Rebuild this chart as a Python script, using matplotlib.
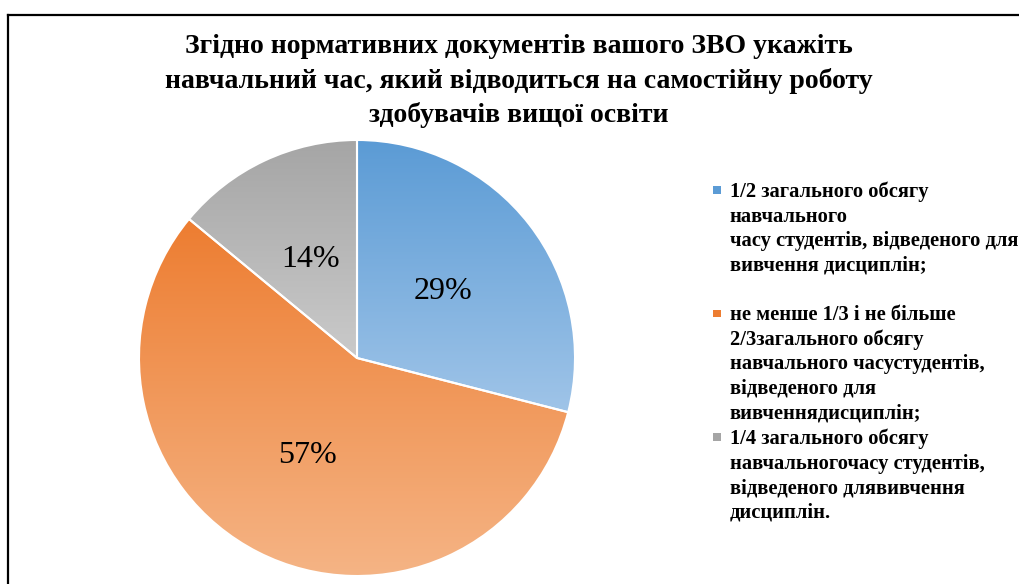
import matplotlib
matplotlib.use("Agg")
import matplotlib.pyplot as plt
import numpy as np
from matplotlib.colors import LinearSegmentedColormap
from matplotlib.lines import Line2D
from matplotlib.patches import Rectangle

title = ("Згідно нормативних документів вашого ЗВО укажіть\n"
         "навчальний час, який відводиться на самостійну роботу\n"
         "здобувачів вищої освіти")
labels = ["1/2 загального обсягу\nнавчального\nчасу студентів, відведеного для\nвивчення дисциплін;",
          "не менше 1/3 і не більше\n2/3загального обсягу\nнавчального часустудентів,\nвідведеного для\nвивченнядисциплін;",
          "1/4 загального обсягу\nнавчальногочасу студентів,\nвідведеного длявивчення\nдисциплін."]
values = [29, 57, 14]
top_colors = ["#5B9BD5", "#ED7D31", "#A5A5A5"]
bottom_colors = ["#9FC4E8", "#F5B485", "#CACACA"]

plt.rcParams['font.family'] = ['Liberation Serif', 'DejaVu Serif']

fig = plt.figure(figsize=(10.19, 5.84), dpi=100)
ax = fig.add_axes([0.1364, 0.0137, 0.4279, 0.7466])

wedges, texts, autotexts = ax.pie(values, startangle=90, counterclock=False,
                                  autopct='%1.0f%%', pctdistance=0.5,
                                  wedgeprops=dict(edgecolor="white", linewidth=1.5))

# vertical gradient per slice, dark on top
grad = np.linspace(0, 1, 256).reshape(-1, 1)
for w, c1, c2 in zip(wedges, top_colors, bottom_colors):
    w.set_facecolor("none")
    ext = w.get_path().get_extents()
    cmap = LinearSegmentedColormap.from_list("g", [c1, c2])
    im = ax.imshow(grad, cmap=cmap, aspect="auto", origin="upper",
                   extent=[ext.x0, ext.x1, ext.y0, ext.y1], zorder=0.5)
    im.set_clip_path(w)
ax.set_xlim(-1, 1)
ax.set_ylim(-1, 1)
ax.set_aspect("equal")

for t in autotexts:
    t.set_fontsize(23)
    t.set_color("black")

fig.text(0.509, 0.941, title, ha="center", va="top", fontsize=20,
         fontweight="bold", linespacing=1.42)

# legend drawn by hand so the markers sit on the first line
legend_y = [0.689, 0.478, 0.266]
for lab, y, c1 in zip(labels, legend_y, top_colors):
    fig.text(0.716, y, lab, ha="left", va="top", fontsize=14.8,
             fontweight="bold", linespacing=1.3)
    fig.patches.append(Rectangle((0.700, y - 0.021), 0.0075, 0.013,
                                 transform=fig.transFigure, facecolor=c1,
                                 edgecolor="none"))

fig.lines.append(Line2D([0.008, 1.0], [0.974, 0.974], color="black",
                        linewidth=1.6, transform=fig.transFigure))
fig.lines.append(Line2D([0.008, 0.008], [0.0, 0.974], color="black",
                        linewidth=1.6, transform=fig.transFigure))

plt.savefig("out.png", dpi=100)
